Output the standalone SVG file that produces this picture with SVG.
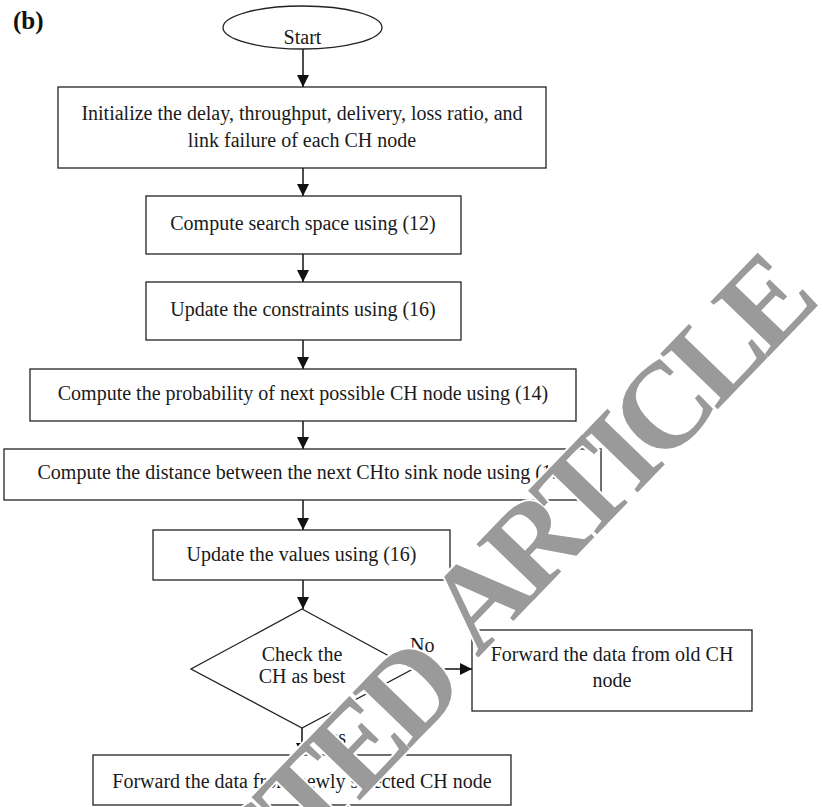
<svg xmlns="http://www.w3.org/2000/svg" width="823" height="807" viewBox="0 0 823 807">
<style>
  .box{fill:#fff;stroke:#222;stroke-width:1.3}
  .t{font-family:"Liberation Serif","Times New Roman",serif;font-size:20px;fill:#1a1a1a;text-anchor:middle}
  .lbl{font-family:"Liberation Serif","Times New Roman",serif;font-size:20px;fill:#1a1a1a}
  .c{stroke:#111;stroke-width:1.5;fill:none}
  .wm{font-family:"Liberation Serif","Times New Roman",serif;font-weight:bold;font-size:122px;letter-spacing:-9px;fill:#9a9a9a;stroke:#fff;stroke-width:4;paint-order:stroke}
</style>
<defs>
  <marker id="ah" viewBox="0 0 12 12" refX="12" refY="6" markerWidth="12" markerHeight="12" markerUnits="userSpaceOnUse" orient="auto">
    <path d="M0,0 L12,6 L0,12 Z" fill="#111"/>
  </marker>
</defs>
<rect width="823" height="807" fill="#fff"/>
<text x="13" y="29" style="font-family:'Liberation Serif',serif;font-weight:bold;font-size:25px;fill:#111">(b)</text>

<g id="connectors">
  <line class="c" x1="303" y1="49" x2="303" y2="87" marker-end="url(#ah)"/>
  <line class="c" x1="303" y1="168" x2="303" y2="196" marker-end="url(#ah)"/>
  <line class="c" x1="303" y1="254" x2="303" y2="282" marker-end="url(#ah)"/>
  <line class="c" x1="303" y1="340" x2="303" y2="369" marker-end="url(#ah)"/>
  <line class="c" x1="303" y1="421" x2="303" y2="449" marker-end="url(#ah)"/>
  <line class="c" x1="303" y1="500" x2="303" y2="530" marker-end="url(#ah)"/>
  <line class="c" x1="303" y1="580" x2="303" y2="609" marker-end="url(#ah)"/>
  <line class="c" x1="413" y1="669" x2="472" y2="669" marker-end="url(#ah)"/>
  <line class="c" x1="302" y1="728" x2="302" y2="755" marker-end="url(#ah)"/>
</g>

<g id="start">
  <ellipse class="box" cx="302.5" cy="27.5" rx="79.5" ry="21.5"/>
  <text class="t" x="302.5" y="44">Start</text>
</g>
<g id="init">
  <rect class="box" x="58" y="87" width="488" height="81"/>
  <text class="t" x="302" y="120">Initialize the delay, throughput, delivery, loss ratio, and</text>
  <text class="t" x="302" y="147">link failure of each CH node</text>
</g>
<g id="search">
  <rect class="box" x="146" y="196" width="315" height="58"/>
  <text class="t" x="303" y="230">Compute search space using (12)</text>
</g>
<g id="constraints">
  <rect class="box" x="146" y="282" width="315" height="58"/>
  <text class="t" x="303" y="316">Update the constraints using (16)</text>
</g>
<g id="probability">
  <rect class="box" x="30" y="369" width="546" height="52"/>
  <text class="t" x="303" y="400">Compute the probability of next possible CH node using (14)</text>
</g>
<g id="distance">
  <rect class="box" x="4" y="449" width="597" height="51"/>
  <text class="t" x="303" y="479">Compute the distance between the next CHto sink node using (15)</text>
</g>
<g id="values">
  <rect class="box" x="153" y="530" width="297" height="50"/>
  <text class="t" x="301.5" y="561">Update the values using (16)</text>
</g>
<g id="check">
  <polygon class="box" points="302,609 413,669 302,728 191,669"/>
  <text class="t" x="302" y="661">Check the</text>
  <text class="t" x="302" y="683">CH as best</text>
  <text class="lbl" x="410" y="652">No</text>
  <text class="lbl" x="317" y="744">Yes</text>
</g>
<g id="old">
  <rect class="box" x="472" y="630" width="280" height="81"/>
  <text class="t" x="612" y="661">Forward the data from old CH</text>
  <text class="t" x="612" y="687">node</text>
</g>
<g id="new">
  <rect class="box" x="93" y="755" width="418" height="50"/>
  <text class="t" x="302" y="788">Forward the data from newly selected CH node</text>
</g>

<g id="watermark">
  <text class="wm" transform="translate(-12.5,1185.7) rotate(-46)" x="0" y="0">RETRACTED <tspan dx="20" dy="-14">ARTICLE</tspan></text>
</g>
</svg>
